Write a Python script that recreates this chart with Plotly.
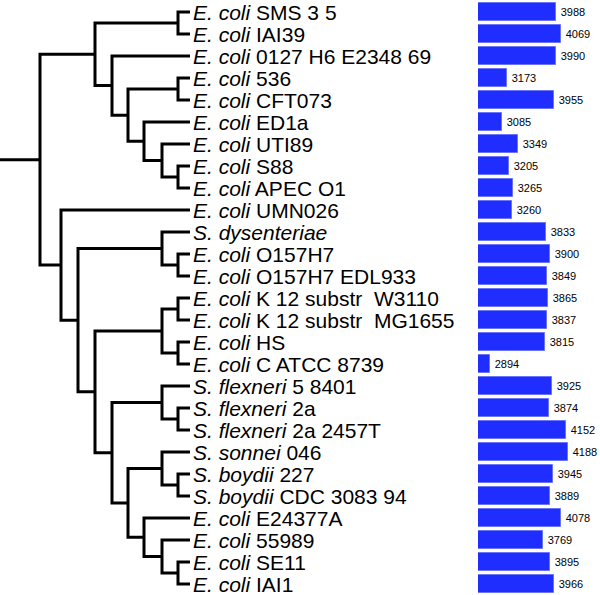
import plotly.graph_objects as go

# ---- data ----
species = ["E. coli", "E. coli", "E. coli", "E. coli", "E. coli", "E. coli", "E. coli",
           "E. coli", "E. coli", "E. coli", "S. dysenteriae", "E. coli", "E. coli",
           "E. coli", "E. coli", "E. coli", "E. coli", "S. flexneri", "S. flexneri",
           "S. flexneri", "S. sonnei", "S. boydii", "S. boydii", "E. coli", "E. coli",
           "E. coli", "E. coli"]
strains = ["SMS 3 5", "IAI39", "0127 H6 E2348 69", "536", "CFT073", "ED1a", "UTI89",
           "S88", "APEC O1", "UMN026", "", "O157H7", "O157H7 EDL933",
           "K 12 substr\u00a0 W3110", "K 12 substr\u00a0 MG1655", "HS", "C ATCC 8739",
           "5 8401", "2a", "2a 2457T", "046", "227", "CDC 3083 94", "E24377A", "55989",
           "SE11", "IAI1"]
gene_counts = [3988, 4069, 3990, 3173, 3955, 3085, 3349, 3205, 3265, 3260, 3833, 3900,
               3849, 3865, 3837, 3815, 2894, 3925, 3874, 4152, 4188, 3945, 3889, 4078,
               3769, 3895, 3966]
# tree topology (leaf numbers index the lists above) with branch lengths
newick = ("(((0:12,1:12):83,(2:78,((3:12,4:12):50,(5:46,(6:28,(7:12,8:12):16):18):16):16):17):55,"
          "(9:129,((10:28,(11:12,12:12):16):84,(((13:12,14:12):16,(15:12,16:12):16):67,"
          "((17:28,(18:12,19:12):16):50,((20:28,(21:12,22:12):16):34,"
          "(23:46,(24:28,(25:12,26:12):16):18):16):16):17):17):17):21):40;")


# ---- parse newick ----
def parse(s):
    pos = 0

    def node():
        nonlocal pos
        children = []
        name = None
        if s[pos] == "(":
            pos += 1
            children.append(node())
            while s[pos] == ",":
                pos += 1
                children.append(node())
            pos += 1  # ')'
        else:
            start = pos
            while s[pos] not in ":,);":
                pos += 1
            name = int(s[start:pos])
        length = 0.0
        if s[pos] == ":":
            pos += 1
            start = pos
            while s[pos] not in ",);":
                pos += 1
            length = float(s[start:pos])
        return {"name": name, "children": children, "len": length}

    return node()


tree = parse(newick)

xs, ys = [], []


def layout(n, x0):
    x = x0 + n["len"]
    n["x"] = x
    if not n["children"]:
        n["y"] = n["name"]
    else:
        for c in n["children"]:
            layout(c, x)
        cy = [c["y"] for c in n["children"]]
        n["y"] = (min(cy) + max(cy)) / 2
    return n


layout(tree, 0.0)


def draw(n):
    if not n["children"]:
        return
    cs = sorted(n["children"], key=lambda c: c["y"])
    a, b = cs[0], cs[-1]
    xs.extend([a["x"], n["x"], n["x"], b["x"], None])
    ys.extend([a["y"], a["y"], b["y"], b["y"], None])
    for c in cs[1:-1]:
        xs.extend([n["x"], c["x"], None])
        ys.extend([c["y"], c["y"], None])
    for c in cs:
        draw(c)


xs.extend([0, tree["x"], None])
ys.extend([tree["y"], tree["y"], None])
draw(tree)

leaf_x = max(x for x in xs if x is not None)
n = len(gene_counts)
rows = list(range(n))

fig = go.Figure()
fig.add_trace(go.Scatter(x=xs, y=ys, mode="lines",
                         line=dict(color="black", width=3),
                         hoverinfo="skip", xaxis="x", yaxis="y"))

fig.add_trace(go.Bar(x=gene_counts, y=rows, orientation="h", width=0.8,
                     marker=dict(color="#1f2dff", line=dict(color="#6a74ff", width=1)),
                     text=["\u2009" + str(v) for v in gene_counts], textposition="outside",
                     textfont=dict(size=11, color="black", family="Liberation Sans, Arial"),
                     cliponaxis=False, constraintext="none",
                     xaxis="x2", yaxis="y"))

for i in rows:
    lab = f"<i>{species[i]}</i>" + (f" {strains[i]}" if strains[i] else "")
    fig.add_annotation(x=leaf_x, y=i, xref="x", yref="y", text=lab, showarrow=False,
                       xanchor="left", yanchor="middle", xshift=1,
                       font=dict(size=21, color="black", family="Liberation Sans, Arial"))

fig.update_layout(
    width=600, height=595,
    margin=dict(l=0, r=0, t=0, b=0),
    paper_bgcolor="white", plot_bgcolor="white",
    showlegend=False,
    xaxis=dict(domain=[0, 470 / 600], range=[0, 470], visible=False),
    xaxis2=dict(domain=[478 / 600, 1], range=[2686, 4730], visible=False, anchor="y"),
    yaxis=dict(domain=[0, 1], range=[26.5, -12 / 22], visible=False),
    bargap=0,
)

fig.write_html("out.html",
               config={"displayModeBar": False},
               post_script="document.body.style.margin='0';document.body.style.padding='0';"
                           "document.body.style.overflow='hidden';")
